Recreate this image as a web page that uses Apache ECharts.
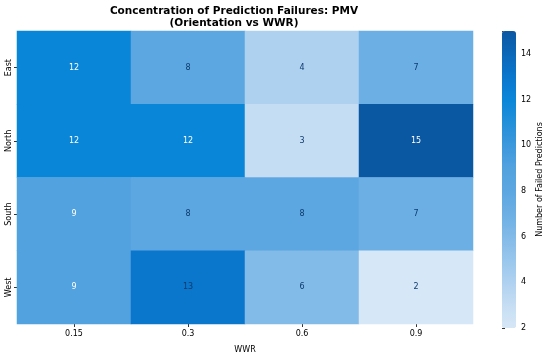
<!DOCTYPE html>
<html><head><meta charset="utf-8">
<script src="https://cdn.jsdelivr.net/npm/echarts@6/dist/echarts.min.js"></script>
<style>html,body{margin:0;padding:0;background:#fff}#c{width:550px;height:359px}</style>
</head><body><div id="c"></div>
<script>
var wwr = ['0.15', '0.3', '0.6', '0.9'];
var orientations = ['East', 'North', 'South', 'West'];
var eastVals = [12, 8, 4, 7];
var northVals = [12, 12, 3, 15];
var southVals = [9, 8, 8, 7];
var westVals = [9, 13, 6, 2];
var colorbarTicks = [2, 4, 6, 8, 10, 12, 14];
var vMin = 2, vMax = 15;

var rows = [eastVals, northVals, southVals, westVals];
var palette = ['#d6e7f7','#c5ddf3','#afd1f0','#98c6ec','#82bae8','#6cafe4','#5ca7e1','#52a2df','#3c98dc','#2290da','#0a86d8','#0a77cd','#0b68b8','#0b58a2'];
function textColor(v){ return (v === 9 || v === 12 || v === 15) ? '#ffffff' : '#0d3b6e'; }
var data = [];
rows.forEach(function(r, yi){ r.forEach(function(v, xi){
  data.push({value:[xi, yi, v], label:{color:textColor(v)}});
});});

var font = 'DejaVu Sans';
var chart = echarts.init(document.getElementById('c'), null, {renderer:'canvas'});
chart.setOption({
  animation:false,
  textStyle:{fontFamily:font},
  title:{text:'Concentration of Prediction Failures: PMV\n(Orientation vs WWR)', left:229, textAlign:'center', top:0,
    textStyle:{fontFamily:font, fontSize:10.5, fontWeight:'bold', color:'#000', lineHeight:12}},
  grid:[{left:17, right:77, top:31, bottom:31},
        {left:502, width:14, top:31, height:297}],
  xAxis:[{type:'category', data:wwr, gridIndex:0, name:'WWR', nameLocation:'middle', nameGap:22,
          nameTextStyle:{fontFamily:font, fontSize:8, color:'#000'},
          axisLine:{show:false}, axisTick:{show:true, alignWithLabel:true, length:3, lineStyle:{color:'#333'}},
          axisLabel:{fontFamily:font, fontSize:8, color:'#000', margin:6}, splitLine:{show:false}},
         {type:'value', gridIndex:1, show:false, min:0, max:1}],
  yAxis:[{type:'category', data:orientations, gridIndex:0, inverse:true,
          axisLine:{show:false}, axisTick:{show:true, alignWithLabel:true, length:3, lineStyle:{color:'#333'}},
          axisLabel:{fontFamily:font, fontSize:8, color:'#000', rotate:90, margin:4}, splitLine:{show:false}},
         {type:'value', gridIndex:1, position:'right', min:vMin, max:vMax, interval:2,
          name:'Number of Failed Predictions', nameLocation:'middle', nameGap:20, nameRotate:90,
          nameTextStyle:{fontFamily:font, fontSize:8, color:'#000'},
          axisLine:{show:false}, axisTick:{show:true, length:3, lineStyle:{color:'#333'}},
          axisLabel:{fontFamily:font, fontSize:8, color:'#000', margin:5,
            formatter:function(v){ return colorbarTicks.indexOf(v) >= 0 ? String(v) : ''; }},
          splitLine:{show:false}}],
  visualMap:{type:'continuous', min:vMin, max:vMax, seriesIndex:0, calculable:false, hoverLink:false, orient:'vertical',
    left:502, top:31, itemWidth:14, itemHeight:297, padding:0, text:null, showLabel:false, indicatorSize:0,
    inRange:{color:palette}},
  series:[{type:'heatmap', xAxisIndex:0, yAxisIndex:0, data:data,
    label:{show:true, fontFamily:font, fontSize:8},
    itemStyle:{borderWidth:0}, emphasis:{disabled:true}}]
});
</script></body></html>
